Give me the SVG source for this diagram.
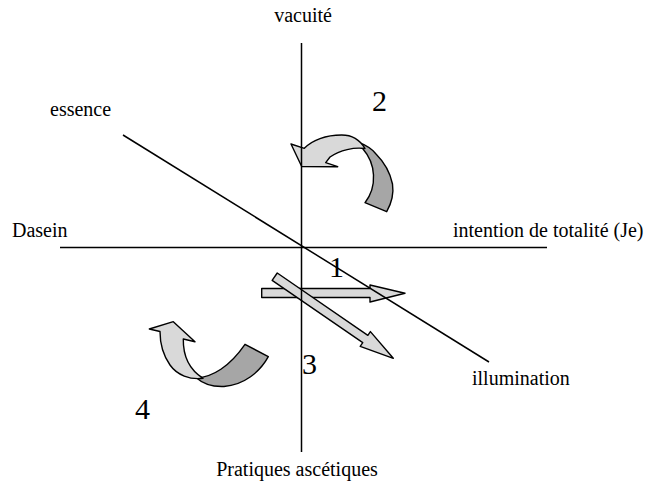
<svg xmlns="http://www.w3.org/2000/svg" width="659" height="484" viewBox="0 0 659 484">
<style>
.lbl{font-family:"Liberation Serif","Times New Roman",serif;font-size:20px;fill:#000}
.num{font-family:"Liberation Serif","Times New Roman",serif;font-size:30px;fill:#000}
.ax{stroke:#000;stroke-width:1.5;fill:none}
.lt{fill:#d9d9d9;stroke:#000;stroke-width:1.4;stroke-linejoin:round}
.dk{fill:#a6a6a6;stroke:#000;stroke-width:1.4;stroke-linejoin:round}
</style>
<rect width="659" height="484" fill="#fff"/>
<g id="arrows">
  <g id="curved-top">
    <path class="dk" d="M356.7,141.7 C366,145 372,149 376,154 C384,162 390,172 392.5,184 C394,194 391,204 386.7,211.7 L365,202.7 C371,195 374,185 373.5,175 C373,165 370,157 363,149 Z"/>
    <path class="lt" d="M291,144 L304.3,148.3 C312,140 326,135 341.7,135 C352,135 360,140 365,148.5 C354,147 340,150 330,157 L325.7,162.7 L337.7,166.7 L301.7,166.5 Z"/>
  </g>
  <g id="curved-bottom">
    <path class="dk" d="M196,377.5 C212,378 230,366 245,344.3 L268.3,356.7 C260,372 244,385 224,386.5 C212,387 202,383 196,377.5 Z"/>
    <path class="lt" d="M149.3,329 L173.3,321.7 L195,341.7 L183.3,339 C183,356 190,370 203,378.3 C190,380 177,375 170,365 C163,355 160,344 160,331.5 Z"/>
  </g>
  <g id="straight-h">
    <polygon class="lt" points="261.7,288.5 370,288.5 370,285 405,293.3 370,302 370,297.5 261.7,297.5"/>
  </g>
  <g id="straight-d">
    <polygon class="lt" points="277.25,273 367.85,335.3 370.4,331.6 393.3,358.3 360.2,346.4 362.75,342.7 272.15,280.4"/>
  </g>
</g>
<g id="connectors">
  <line class="ax" x1="301.5" y1="43" x2="301.5" y2="452"/>
  <line class="ax" x1="60" y1="247.5" x2="547" y2="247.5"/>
  <line class="ax" x1="123" y1="135" x2="489" y2="362"/>
</g>
<g id="labels">
  <g id="n-vacuite"><text class="lbl" x="303" y="22" text-anchor="middle">vacuité</text></g>
  <g id="n-essence"><text class="lbl" x="50" y="116">essence</text></g>
  <g id="n-dasein"><text class="lbl" x="12" y="237">Dasein</text></g>
  <g id="n-intention"><text class="lbl" x="453" y="237">intention de totalité (Je)</text></g>
  <g id="n-illumination"><text class="lbl" x="472" y="385">illumination</text></g>
  <g id="n-pratiques"><text class="lbl" x="297" y="476" text-anchor="middle">Pratiques ascétiques</text></g>
  <g id="n-1"><text class="num" x="329" y="277">1</text></g>
  <g id="n-2"><text class="num" x="372" y="111">2</text></g>
  <g id="n-3"><text class="num" x="302" y="374">3</text></g>
  <g id="n-4"><text class="num" x="135" y="419">4</text></g>
</g>
</svg>
